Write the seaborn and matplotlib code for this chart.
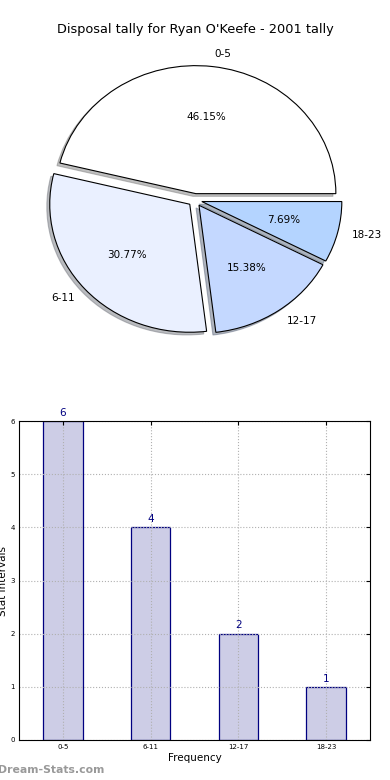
import matplotlib
matplotlib.use("Agg")
import matplotlib.pyplot as plt
import seaborn as sns
import pandas as pd

categories = ["0-5", "6-11", "12-17", "18-23"]
counts = [6, 4, 2, 1]
pie_colors = ["#ffffff", "#eaf0ff", "#c4d8ff", "#b4d4ff"]
title = "Disposal tally for Ryan O'Keefe - 2001 tally"

sns.set_style("white")
plt.rcParams['font.family'] = ['DejaVu Sans']
plt.rcParams['text.color'] = 'black'
plt.rcParams['axes.labelcolor'] = 'black'
plt.rcParams['xtick.color'] = 'black'
plt.rcParams['ytick.color'] = 'black'

W, H = 390, 780
fig = plt.figure(figsize=(W / 100, H / 100), dpi=100)

def rect(l, t, r, b):
    return [l / W, 1 - b / H, (r - l) / W, (b - t) / H]

# Pie
axp = fig.add_axes(rect(19, 56, 371, 344))
wedges, texts, autotexts = axp.pie(
    counts, labels=categories, colors=pie_colors, explode=[0.05] * 4,
    autopct="%.2f%%", shadow={'ox': -0.015, 'oy': -0.015, 'shade': 0.5},
    startangle=0, labeldistance=1.1,
    wedgeprops=dict(edgecolor="black", linewidth=0.8),
    textprops=dict(fontsize=7.5, color="black"))
axp.set_aspect("auto")
axp.set_xlim(-1.257, 1.257)
axp.set_ylim(-1.125, 1.125)
axp.axis("off")
fig.text(195 / W, 1 - 30 / H, title, ha="center", va="center", fontsize=9.3,
         color="black")

# Bar
axb = fig.add_axes(rect(19, 421, 370, 740))
df = pd.DataFrame({"cat": categories, "val": counts})
sns.barplot(data=df, x="cat", y="val", ax=axb, color="#cdcde6", saturation=1,
            width=0.45, edgecolor="#000080", linewidth=0.9, zorder=2)
axb.set_xlim(-0.5, 3.5)
axb.set_ylim(0, 6)
axb.set_yticks(range(0, 7))
axb.grid(True, linestyle=":", color="#b0b0b0", linewidth=0.8)
axb.set_axisbelow(False)
for line in axb.get_xgridlines() + axb.get_ygridlines():
    line.set_zorder(3)
axb.tick_params(axis="both", labelsize=5, direction="in", length=3,
                top=True, right=True, pad=3)
for s in axb.spines.values():
    s.set_color("black")
    s.set_linewidth(0.8)
    s.set_zorder(4)
axb.set_xlabel("Frequency", fontsize=7.5, labelpad=2)
axb.set_ylabel("Stat Intervals", fontsize=7.5, labelpad=2)
for i, v in enumerate(counts):
    axb.text(i, v + 0.06, str(v), ha="center", va="bottom",
             color="#000080", fontsize=7.5)
fig.text(-2 / W, 1 - 770 / H, "Dream-Stats.com", ha="left", va="center",
         fontsize=7.8, color="#999999", fontweight="bold")

fig.savefig("out.png", dpi=100)
